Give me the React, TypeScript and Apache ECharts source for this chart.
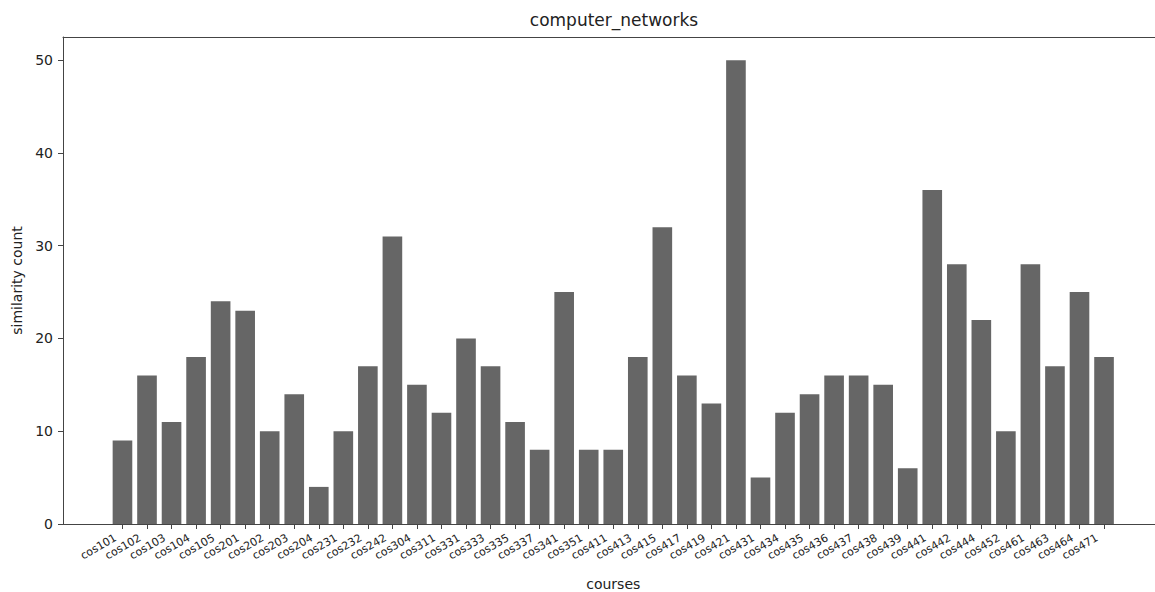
import React, { useEffect, useRef } from "react";
import * as echarts from "echarts";

const courses = [
  "cos101", "cos102", "cos103", "cos104", "cos105", "cos201", "cos202", "cos203", "cos204", "cos231",
  "cos232", "cos242", "cos304", "cos311", "cos331", "cos333", "cos335", "cos337", "cos341", "cos351",
  "cos411", "cos413", "cos415", "cos417", "cos419", "cos421", "cos431", "cos434", "cos435", "cos436",
  "cos437", "cos438", "cos439", "cos441", "cos442", "cos444", "cos452", "cos461", "cos463", "cos464",
  "cos471",
];

const similarityCount = [
  9, 16, 11, 18, 24, 23, 10, 14, 4, 10,
  17, 31, 15, 12, 20, 17, 11, 8, 25, 8,
  8, 18, 32, 16, 13, 50, 5, 12, 14, 16,
  16, 15, 6, 36, 28, 22, 10, 28, 17, 25,
  18,
];

const yTicks = [0, 10, 20, 30, 40, 50];
const yMax = 52.5;

const titleText = "computer_networks";
const xName = "courses";
const yName = "similarity count";

export default function App() {
  const ref = useRef<HTMLDivElement>(null);

  useEffect(() => {
    document.body.style.margin = "0";
    document.body.style.overflow = "hidden";
    if (!ref.current) return;
    const chart = echarts.init(ref.current, undefined, { renderer: "svg" });
    const axisColor = "#444";
    const textColor = "#222";
    chart.setOption({
      animation: false,
      backgroundColor: "#fff",
      textStyle: { fontFamily: "DejaVu Sans", color: textColor },
      graphic: [
        {
          type: "text",
          x: 614,
          y: 20,
          style: {
            text: titleText,
            fontSize: 17,
            fontFamily: "DejaVu Sans",
            fill: textColor,
            textAlign: "center",
            textVerticalAlign: "middle",
          },
        },
      ],
      grid: [
        {
          left: 63,
          top: 37,
          width: 1101,
          height: 487,
          outerBoundsMode: "none",
          containLabel: false,
          show: false,
        },
        {
          left: 110.2,
          top: 37,
          width: 1006.1,
          height: 487,
          outerBoundsMode: "none",
          containLabel: false,
        },
      ],
      xAxis: [
        {
          gridIndex: 0,
          type: "value",
          min: 0,
          max: 1,
          position: "bottom",
          axisLine: { show: true, lineStyle: { color: axisColor } },
          axisTick: { show: false },
          axisLabel: { show: false },
          splitLine: { show: false },
        },
        {
          gridIndex: 1,
          type: "category",
          data: courses,
          name: xName,
          nameLocation: "middle",
          nameGap: 53,
          nameTextStyle: { fontSize: 14, color: textColor },
          axisLine: { show: false },
          axisTick: { show: true, alignWithLabel: true, length: 5, lineStyle: { color: axisColor } },
          axisLabel: {
            interval: 0,
            rotate: 30,
            fontSize: 11,
            margin: 9,
            padding: [0, 8, 0, 0],
            color: textColor,
          },
          splitLine: { show: false },
        },
        {
          gridIndex: 0,
          type: "value",
          min: 0,
          max: 1,
          position: "top",
          axisLine: { show: true, lineStyle: { color: axisColor } },
          axisTick: { show: false },
          axisLabel: { show: false },
          splitLine: { show: false },
        },
      ],
      yAxis: [
        {
          gridIndex: 0,
          type: "value",
          min: 0,
          max: yMax,
          interval: 10,
          name: yName,
          nameLocation: "middle",
          nameGap: 39,
          nameTextStyle: { fontSize: 14, color: textColor },
          axisLine: { show: true, lineStyle: { color: axisColor } },
          axisTick: {
            show: true,
            length: 5,
            lineStyle: { color: axisColor },
            customValues: yTicks,
          },
          axisLabel: {
            fontSize: 14,
            margin: 10,
            color: textColor,
            customValues: yTicks,
          },
          splitLine: { show: false },
        },
        { gridIndex: 1, type: "value", min: 0, max: yMax, show: false },
      ],
      series: [
        {
          type: "bar",
          xAxisIndex: 1,
          yAxisIndex: 1,
          data: similarityCount,
          barWidth: "80%",
          itemStyle: { color: "#666666" },
        },
      ],
    });
    return () => chart.dispose();
  }, []);

  return <div ref={ref} style={{ width: 1155, height: 592 }} />;
}
